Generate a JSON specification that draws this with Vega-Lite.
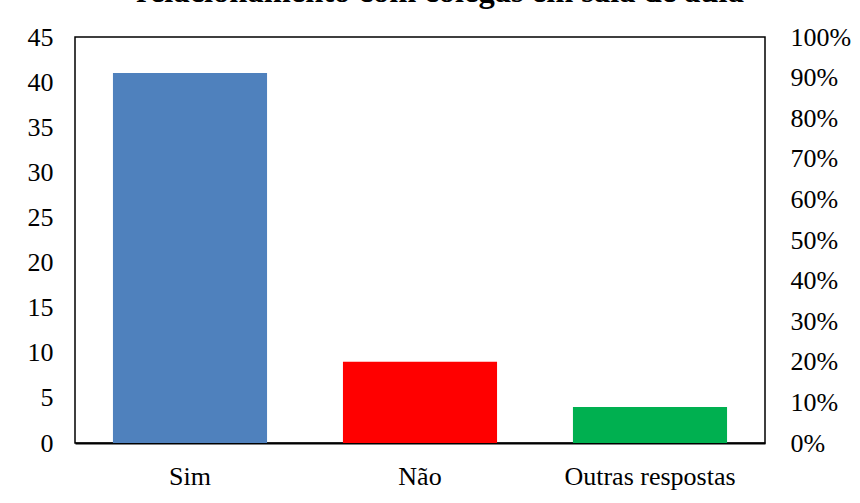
{
  "$schema": "https://vega.github.io/schema/vega-lite/v6.json",
  "width": 690,
  "height": 406,
  "autosize": {"type": "none"},
  "padding": {"left": 75, "top": 37, "right": 95, "bottom": 60},
  "background": "white",
  "title": {
    "text": "relacionamento com colegas em sala de aula",
    "font": "Liberation Serif",
    "fontSize": 32.5,
    "fontWeight": "bold",
    "color": "black",
    "anchor": "middle",
    "baseline": "alphabetic",
    "dx": 20,
    "offset": -10
  },
  "config": {
    "view": {"stroke": "black", "strokeWidth": 1.5},
    "axis": {
      "labelFont": "Liberation Serif",
      "labelFontSize": 26,
      "labelColor": "black",
      "grid": false,
      "ticks": false,
      "title": null
    }
  },
  "data": {
    "values": [
      {"resposta": "Sim", "n": 41, "pct": 0.759},
      {"resposta": "Não", "n": 9, "pct": 0.167},
      {"resposta": "Outras respostas", "n": 4, "pct": 0.074}
    ]
  },
  "encoding": {
    "x": {
      "field": "resposta",
      "type": "nominal",
      "sort": null,
      "scale": {"paddingInner": 0.33, "paddingOuter": 0.165},
      "axis": {"labelAngle": 0, "labelPadding": 20, "domainColor": "black", "domainWidth": 2, "title": null}
    }
  },
  "layer": [
    {
      "mark": {"type": "bar"},
      "encoding": {
        "y": {
          "field": "n",
          "type": "quantitative",
          "scale": {"domain": [0, 45], "nice": false},
          "axis": {"values": [0, 5, 10, 15, 20, 25, 30, 35, 40, 45], "domain": false, "labelPadding": 22, "title": null}
        },
        "color": {
          "field": "resposta",
          "type": "nominal",
          "scale": {"domain": ["Sim", "Não", "Outras respostas"], "range": ["#4F81BD", "#FF0000", "#00B050"]},
          "legend": null
        }
      }
    },
    {
      "mark": {"type": "point", "opacity": 0},
      "encoding": {
        "y": {
          "field": "pct",
          "type": "quantitative",
          "scale": {"domain": [0, 1], "nice": false},
          "axis": {"orient": "right", "format": ".0%", "values": [0, 0.1, 0.2, 0.3, 0.4, 0.5, 0.6, 0.7, 0.8, 0.9, 1], "domain": false, "labelPadding": 25, "title": null}
        }
      }
    }
  ],
  "resolve": {"scale": {"y": "independent", "color": "independent"}}
}
